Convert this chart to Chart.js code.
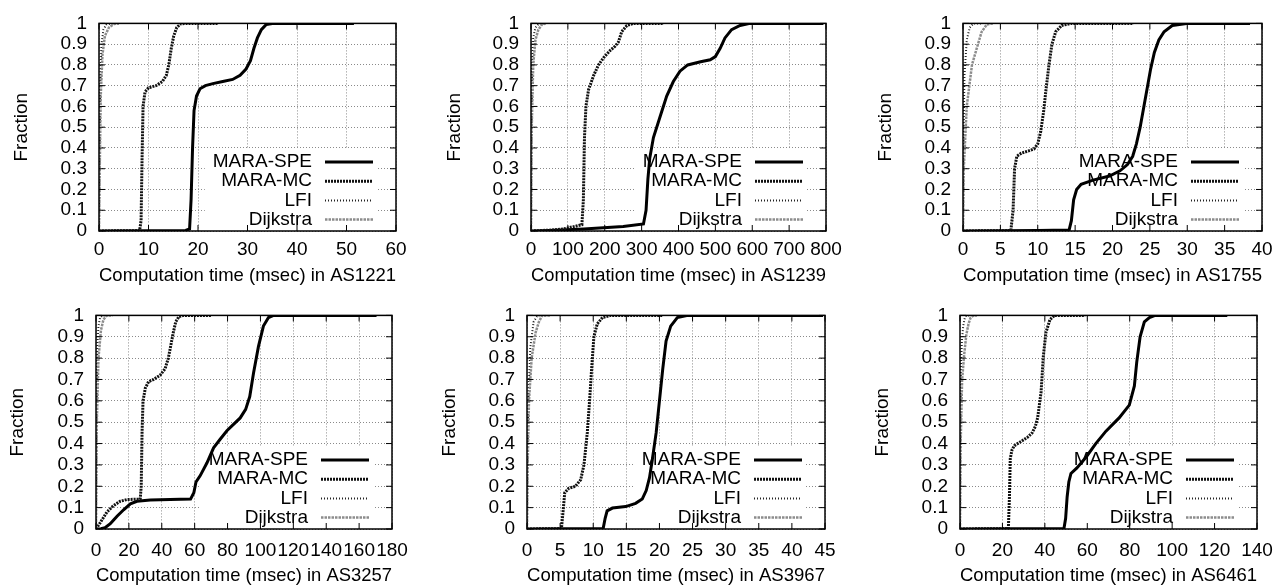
<!DOCTYPE html>
<html>
<head>
<meta charset="utf-8">
<script src="https://cdn.jsdelivr.net/npm/chart.js@4.4.1/dist/chart.umd.min.js"></script>
<style>
  html, body { margin: 0; padding: 0; background: #fff; }
  #wrap { position: relative; width: 1283px; height: 587px; overflow: hidden; }
  #wrap canvas { position: absolute; display: block; }
</style>
</head>
<body>
<div id="wrap">
  <canvas id="c1"></canvas>
  <canvas id="c2"></canvas>
  <canvas id="c3"></canvas>
  <canvas id="c4"></canvas>
  <canvas id="c5"></canvas>
  <canvas id="c6"></canvas>
</div>
<script>
// ---- data ----
const seriesNames = ["MARA-SPE", "MARA-MC", "LFI", "Dijkstra"];
const fractionTicks = [0, 0.1, 0.2, 0.3, 0.4, 0.5, 0.6, 0.7, 0.8, 0.9, 1];
const fractionLabels = ["0", "0.1", "0.2", "0.3", "0.4", "0.5", "0.6", "0.7", "0.8", "0.9", "1"];

// AS1221
const as1221Ticks = [0, 10, 20, 30, 40, 50, 60];
const as1221Spe = [[0,0],[10,0.001],[17.5,0.003],[18.3,0.01],[18.6,0.15],[18.9,0.4],[19.2,0.58],[19.7,0.65],[20.4,0.685],[21.5,0.7],[23,0.71],[25,0.72],[27,0.73],[28.5,0.75],[29.7,0.78],[30.6,0.82],[31.3,0.88],[32,0.93],[32.8,0.97],[33.8,0.995],[35,1],[51.5,1]];
const as1221Mc = [[0,0],[8.2,0.002],[8.5,0.05],[8.7,0.35],[8.9,0.6],[9.3,0.67],[10,0.69],[11.5,0.7],[12.8,0.72],[13.6,0.75],[14.1,0.8],[14.6,0.88],[15.1,0.94],[15.7,0.98],[16.5,0.998],[17.5,1],[24,1]];
const as1221Lfi = [[0,0],[0.1,0.3],[0.25,0.7],[0.5,0.9],[0.9,0.97],[1.5,0.995],[2.5,1],[4,1]];
const as1221Dij = [[0,0],[0.15,0.3],[0.35,0.65],[0.7,0.85],[1.2,0.94],[2,0.98],[3,0.997],[4,1]];

// AS1239
const as1239Ticks = [0, 100, 200, 300, 400, 500, 600, 700, 800];
const as1239Spe = [[0,0],[50,0.003],[143,0.01],[250,0.022],[305,0.034],[312,0.1],[317,0.25],[322,0.35],[332,0.45],[350,0.55],[368,0.65],[386,0.72],[404,0.77],[425,0.8],[460,0.815],[486,0.825],[500,0.84],[513,0.88],[526,0.93],[544,0.97],[567,0.99],[594,1],[793,1]];
const as1239Mc = [[0,0],[50,0.004],[88,0.01],[138,0.03],[142,0.15],[145,0.45],[149,0.6],[156,0.68],[170,0.75],[183,0.8],[197,0.835],[215,0.87],[228,0.89],[237,0.91],[246,0.96],[260,0.99],[278,1],[360,1]];
const as1239Lfi = [[0,0],[1,0.4],[3,0.8],[6,0.93],[12,0.98],[22,1],[35,1]];
const as1239Dij = [[0,0],[2,0.5],[6,0.8],[12,0.92],[20,0.97],[30,0.995],[40,1]];

// AS1755
const as1755Ticks = [0, 5, 10, 15, 20, 25, 30, 35, 40];
const as1755Spe = [[0,0],[10,0.002],[14.2,0.005],[14.5,0.05],[14.8,0.15],[15.2,0.2],[15.8,0.225],[17.4,0.245],[19.6,0.265],[21,0.29],[22,0.32],[22.7,0.36],[23.2,0.42],[23.7,0.5],[24.2,0.6],[24.7,0.7],[25.1,0.78],[25.6,0.86],[26.2,0.92],[26.9,0.96],[28,0.99],[29.9,1],[38.4,1]];
const as1755Mc = [[0,0],[6.4,0.002],[6.7,0.1],[6.9,0.3],[7.2,0.36],[7.8,0.375],[8.7,0.385],[9.5,0.395],[10,0.42],[10.4,0.48],[10.8,0.58],[11.1,0.68],[11.5,0.8],[11.9,0.9],[12.4,0.96],[13.2,0.99],[14.5,1],[22.8,1]];
const as1755Lfi = [[0,0],[0.05,0.4],[0.2,0.75],[0.5,0.92],[0.9,0.98],[1.4,1],[2.5,1]];
const as1755Dij = [[0,0],[0.1,0.3],[0.5,0.6],[1.2,0.8],[2,0.9],[2.5,0.96],[3.2,0.995],[4,1]];

// AS3257
const as3257Ticks = [0, 20, 40, 60, 80, 100, 120, 140, 160, 180];
const as3257Spe = [[0,0],[3,0.001],[5.5,0.006],[8.7,0.025],[11,0.045],[12.8,0.06],[16.8,0.09],[20.9,0.118],[24.9,0.13],[33,0.136],[45,0.138],[57.5,0.14],[59.5,0.17],[60.8,0.22],[63.4,0.25],[67.5,0.31],[71.5,0.38],[75.5,0.42],[79.6,0.46],[83.6,0.49],[87.7,0.52],[91,0.56],[93.5,0.62],[95.8,0.73],[98.8,0.855],[101.8,0.95],[104.9,0.99],[108,1],[170.6,1]];
const as3257Mc = [[0,0],[2.6,0.03],[6.7,0.08],[10.7,0.11],[14.8,0.13],[18.8,0.138],[26.9,0.14],[27.5,0.2],[28,0.45],[28.6,0.6],[30,0.66],[32,0.69],[35,0.7],[39,0.72],[42,0.75],[44,0.8],[45.5,0.86],[47,0.92],[48.5,0.97],[50.5,0.995],[53,1],[70,1]];
const as3257Lfi = [[0,0],[0.3,0.5],[0.8,0.85],[1.5,0.95],[2.5,0.99],[4,1],[8,1]];
const as3257Dij = [[0,0],[0.5,0.5],[1.5,0.8],[3,0.93],[4.5,0.98],[6.5,1],[10,1]];

// AS3967
const as3967Ticks = [0, 5, 10, 15, 20, 25, 30, 35, 40, 45];
const as3967Spe = [[0,0],[11.5,0.002],[11.8,0.05],[12.1,0.085],[12.9,0.098],[14.9,0.105],[16.4,0.12],[17.4,0.14],[18,0.18],[18.5,0.24],[18.9,0.32],[19.5,0.45],[20,0.6],[20.5,0.75],[21,0.88],[21.7,0.95],[22.7,0.99],[24.3,1],[44.7,1]];
const as3967Mc = [[0,0],[5.2,0.002],[5.5,0.1],[5.7,0.17],[6.3,0.19],[7.3,0.2],[8.1,0.23],[8.6,0.3],[9.1,0.45],[9.45,0.6],[9.76,0.75],[10.1,0.9],[10.6,0.96],[11.4,0.99],[12.6,1],[20.5,1]];
const as3967Lfi = [[0,0],[0.05,0.3],[0.2,0.6],[0.5,0.85],[1,0.97],[1.6,1],[3,1]];
const as3967Dij = [[0,0],[0.1,0.3],[0.3,0.6],[0.7,0.8],[1.3,0.92],[1.8,0.97],[2.3,1],[3.5,1]];

// AS6461
const as6461Ticks = [0, 20, 40, 60, 80, 100, 120, 140];
const as6461Spe = [[0,0],[49,0.002],[49.8,0.05],[50.5,0.15],[51.3,0.22],[52.3,0.26],[55,0.285],[59.4,0.336],[64,0.4],[68.8,0.458],[75,0.52],[79.8,0.58],[82.2,0.67],[83.3,0.78],[84.9,0.9],[86.9,0.97],[89.3,0.99],[92,1],[126,1]];
const as6461Mc = [[0,0],[22.8,0.002],[23.3,0.15],[23.7,0.33],[24.5,0.37],[25.6,0.39],[28.8,0.41],[31.9,0.43],[34,0.45],[35.5,0.48],[36.6,0.52],[38.2,0.64],[39.3,0.81],[40.5,0.92],[42.4,0.98],[44.5,1],[59,1]];
const as6461Lfi = [[0,0],[0.1,0.4],[0.4,0.75],[0.9,0.88],[1.5,0.95],[2.3,0.99],[3,1],[5,1]];
const as6461Dij = [[0,0],[0.3,0.4],[1,0.7],[2,0.82],[3,0.91],[4,0.96],[5,0.99],[6.5,1],[8,1]];

// ---- styles / layout ----
const lineStyles = [
  { color: "#000", width: 3, dash: [] },
  { color: "#111", width: 3, dash: [2, 1] },
  { color: "#222", width: 2, dash: [1, 2] },
  { color: "#8c8c8c", width: 2.5, dash: [2.5, 1] }
];

// canvas box + plot-area geometry, in page pixels
const panels = [
  { id: "c1", name: "AS1221", ticks: as1221Ticks, series: [as1221Spe, as1221Mc, as1221Lfi, as1221Dij],
    box: { left: 0, top: 0, w: 430, h: 292, plotLeft: 99, plotRight: 396, plotTop: 13, plotBottom: 231, yTitleX: 22, xTickPad: 7, xTitlePad: 5 } },
  { id: "c2", name: "AS1239", ticks: as1239Ticks, series: [as1239Spe, as1239Mc, as1239Lfi, as1239Dij],
    box: { left: 430, top: 0, w: 428, h: 292, plotLeft: 531, plotRight: 826, plotTop: 13, plotBottom: 231, yTitleX: 455, xTickPad: 7, xTitlePad: 5 } },
  { id: "c3", name: "AS1755", ticks: as1755Ticks, series: [as1755Spe, as1755Mc, as1755Lfi, as1755Dij],
    box: { left: 858, top: 0, w: 425, h: 292, plotLeft: 963, plotRight: 1262, plotTop: 13, plotBottom: 231, yTitleX: 886, xTickPad: 7, xTitlePad: 5 } },
  { id: "c4", name: "AS3257", ticks: as3257Ticks, series: [as3257Spe, as3257Mc, as3257Lfi, as3257Dij],
    box: { left: 0, top: 292, w: 430, h: 295, plotLeft: 96, plotRight: 392, plotTop: 310, plotBottom: 529, yTitleX: 18, xTickPad: 10, xTitlePad: 0 } },
  { id: "c5", name: "AS3967", ticks: as3967Ticks, series: [as3967Spe, as3967Mc, as3967Lfi, as3967Dij],
    box: { left: 430, top: 292, w: 428, h: 295, plotLeft: 527, plotRight: 825, plotTop: 310, plotBottom: 529, yTitleX: 450, xTickPad: 10, xTitlePad: 0 } },
  { id: "c6", name: "AS6461", ticks: as6461Ticks, series: [as6461Spe, as6461Mc, as6461Lfi, as6461Dij],
    box: { left: 858, top: 292, w: 425, h: 295, plotLeft: 960, plotRight: 1257, plotTop: 310, plotBottom: 529, yTitleX: 883, xTickPad: 10, xTitlePad: 0 } }
];

const FONT = { family: '"Liberation Sans", Arial, Helvetica, sans-serif', size: 19 };
Chart.defaults.font.family = FONT.family;
Chart.defaults.font.size = FONT.size;
Chart.defaults.color = "#000";

// key drawn inside the plot, lower right, on a white patch over the grid
const insideKey = {
  id: "insideKey",
  beforeDatasetsDraw(chart) {
    const { ctx, chartArea: a } = chart;
    const ds = chart.data.datasets;
    const lineEnd = a.right - 23, lineStart = a.right - 71, textRight = lineStart - 13;
    const rowH = 19.2, firstY = a.bottom - 69;
    ctx.save();
    ctx.font = FONT.size + "px " + FONT.family;
    const widest = Math.max(...ds.map(d => ctx.measureText(d.label).width));
    const boxL = textRight - widest - 8;
    ctx.fillStyle = "#fff";
    ctx.fillRect(boxL, firstY - 14, lineEnd + 4 - boxL, a.bottom - firstY + 14);
    ds.forEach((d, i) => {
      const y = firstY + i * rowH;
      ctx.fillStyle = "#000";
      ctx.textAlign = "right";
      ctx.textBaseline = "middle";
      ctx.fillText(d.label, textRight, y);
      ctx.beginPath();
      ctx.setLineDash(d.borderDash || []);
      ctx.strokeStyle = d.borderColor;
      ctx.lineWidth = d.borderWidth;
      ctx.moveTo(lineStart, y);
      ctx.lineTo(lineEnd, y);
      ctx.stroke();
    });
    ctx.restore();
  }
};

// plot border and inward tick marks on all four sides
const frame = {
  id: "frame",
  afterDraw(chart) {
    const { ctx, chartArea: a, scales } = chart;
    ctx.save();
    ctx.strokeStyle = "#000";
    ctx.lineWidth = 1.5;
    ctx.strokeRect(a.left, a.top, a.right - a.left, a.bottom - a.top);
    ctx.beginPath();
    scales.x.ticks.forEach(t => {
      const px = scales.x.getPixelForValue(t.value);
      ctx.moveTo(px, a.bottom); ctx.lineTo(px, a.bottom - 6);
      ctx.moveTo(px, a.top); ctx.lineTo(px, a.top + 6);
    });
    scales.y.ticks.forEach(t => {
      const py = scales.y.getPixelForValue(t.value);
      ctx.moveTo(a.left, py); ctx.lineTo(a.left + 6, py);
      ctx.moveTo(a.right, py); ctx.lineTo(a.right - 6, py);
    });
    ctx.lineWidth = 1;
    ctx.stroke();
    ctx.restore();
  }
};

function makeChart(p) {
  const b = p.box;
  const canvas = document.getElementById(p.id);
  canvas.width = b.w;
  canvas.height = b.h;
  canvas.style.left = b.left + "px";
  canvas.style.top = b.top + "px";

  const yAxisW = b.plotLeft - b.left;
  const xAxisH = b.top + b.h - b.plotBottom;

  new Chart(canvas, {
    type: "scatter",
    data: {
      datasets: p.series.map((pts, i) => ({
        label: seriesNames[i],
        data: pts.map(([x, y]) => ({ x: x, y: y })),
        showLine: true,
        pointRadius: 0,
        borderColor: lineStyles[i].color,
        borderWidth: lineStyles[i].width,
        borderDash: lineStyles[i].dash,
        tension: 0,
        order: 4 - i
      }))
    },
    options: {
      responsive: false,
      animation: false,
      devicePixelRatio: 1,
      layout: { padding: { left: 0, top: b.plotTop - b.top, right: b.left + b.w - b.plotRight, bottom: 0 } },
      plugins: { legend: { display: false }, tooltip: { enabled: false } },
      scales: {
        x: {
          type: "linear",
          min: p.ticks[0],
          max: p.ticks[p.ticks.length - 1],
          afterBuildTicks: s => { s.ticks = p.ticks.map(v => ({ value: v })); },
          afterFit: s => { s.height = xAxisH; },
          ticks: { autoSkip: false, maxRotation: 0, minRotation: 0, padding: b.xTickPad, color: "#000",
                   callback: v => String(v) },
          grid: { color: "#8a8a8a", lineWidth: 1, drawTicks: false },
          border: { display: false, dash: [1, 2] },
          title: { display: true, text: "Computation time (msec) in " + p.name, color: "#000",
                   padding: { top: 0, bottom: b.xTitlePad } }
        },
        y: {
          type: "linear",
          min: 0,
          max: 1,
          afterBuildTicks: s => { s.ticks = fractionTicks.map(v => ({ value: v })); },
          afterFit: s => { s.width = yAxisW; },
          ticks: { autoSkip: false, padding: 12, color: "#000", callback: (v, i) => fractionLabels[i] },
          grid: { color: "#8a8a8a", lineWidth: 1, drawTicks: false },
          border: { display: false, dash: [1, 2] },
          title: { display: true, text: "Fraction", color: "#000",
                   padding: { top: b.yTitleX - b.left - 11.4, bottom: 0 } }
        }
      }
    },
    plugins: [insideKey, frame]
  });
}

panels.forEach(makeChart);
</script>
</body>
</html>
